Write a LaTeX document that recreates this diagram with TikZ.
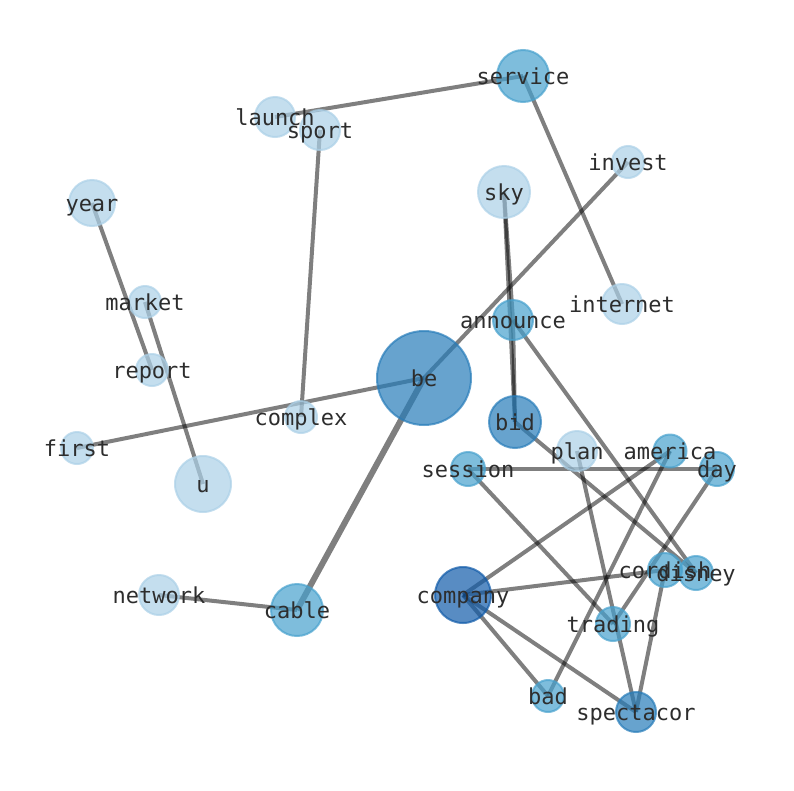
\documentclass[tikz,border=0pt]{standalone}
\usepackage{fontspec}
\setmonofont{DejaVu Sans Mono}
\definecolor{cLight}{RGB}{171,208,231}
\definecolor{cMed}{RGB}{71,161,205}
\definecolor{cDark}{RGB}{39,124,185}
\definecolor{cDeep}{RGB}{17,91,169}
\definecolor{txt}{RGB}{45,45,45}
\tikzset{
  vtx/.style={circle, inner sep=0pt, minimum size=#1, line width=2pt, opacity=0.7},
  lightv/.style={vtx=#1, fill=cLight, draw=cLight},
  medv/.style={vtx=#1, fill=cMed, draw=cMed},
  darkv/.style={vtx=#1, fill=cDark, draw=cDark},
  deepv/.style={vtx=#1, fill=cDeep, draw=cDeep},
  lbl/.style={font=\ttfamily\fontsize{22}{22}\selectfont, text=txt, inner sep=0pt, anchor=base, yshift=-8.2pt},
  edge/.style={draw=black, opacity=0.5, line width=4pt},
  thick edge/.style={draw=black, opacity=0.5, line width=6pt},
}
\begin{document}
\begin{tikzpicture}[x=1pt,y=-1pt]
\useasboundingbox (0,0) rectangle (794,790);
% coordinates
\coordinate (service) at (523,76);
\coordinate (launch) at (275,117);
\coordinate (sport) at (320,130);
\coordinate (invest) at (628,162);
\coordinate (year) at (92,203);
\coordinate (sky) at (504,192);
\coordinate (market) at (145,302);
\coordinate (internet) at (622,304);
\coordinate (announce) at (513,320);
\coordinate (report) at (152,370);
\coordinate (be) at (424,378);
\coordinate (complex) at (301,417);
\coordinate (bid) at (515,422);
\coordinate (first) at (77,448);
\coordinate (u) at (203,484);
\coordinate (plan) at (577,451);
\coordinate (america) at (670,451);
\coordinate (session) at (468,469);
\coordinate (day) at (717,469);
\coordinate (cordish) at (665,570);
\coordinate (disney) at (696,573);
\coordinate (network) at (159,595);
\coordinate (cable) at (297,610);
\coordinate (company) at (463,595);
\coordinate (trading) at (613,624);
\coordinate (bad) at (548,696);
\coordinate (spectacor) at (636,712);
% edges
\draw[edge] (launch) -- (service);
\draw[edge] (sport) -- (complex);
\draw[edge] (service) -- (internet);
\draw[edge] (invest) -- (be);
\draw[edge] (sky) -- (bid);
\draw[edge] (sky) -- (announce);
\draw[edge] (announce) -- (bid);
\draw[edge] (announce) -- (disney);
\draw[edge] (bid) -- (disney);
\draw[edge] (year) -- (report);
\draw[edge] (market) -- (u);
\draw[edge] (first) -- (be);
\draw[thick edge] (be) -- (cable);
\draw[edge] (network) -- (cable);
\draw[edge] (session) -- (day);
\draw[edge] (session) -- (trading);
\draw[edge] (plan) -- (spectacor);
\draw[edge] (america) -- (company);
\draw[edge] (america) -- (bad);
\draw[edge] (day) -- (trading);
\draw[edge] (company) -- (cordish);
\draw[edge] (company) -- (bad);
\draw[edge] (company) -- (spectacor);
\draw[edge] (cordish) -- (spectacor);
% nodes
\node[medv=52pt] (n-service) at (service) {};
\node[lightv=40pt] (n-launch) at (launch) {};
\node[lightv=40pt] (n-sport) at (sport) {};
\node[lightv=32pt] (n-invest) at (invest) {};
\node[lightv=46pt] (n-year) at (year) {};
\node[lightv=52pt] (n-sky) at (sky) {};
\node[lightv=32pt] (n-market) at (market) {};
\node[lightv=40pt] (n-internet) at (internet) {};
\node[medv=40pt] (n-announce) at (announce) {};
\node[lightv=32pt] (n-report) at (report) {};
\node[darkv=94pt] (n-be) at (be) {};
\node[lightv=32pt] (n-complex) at (complex) {};
\node[darkv=52pt] (n-bid) at (bid) {};
\node[lightv=32pt] (n-first) at (first) {};
\node[lightv=56pt] (n-u) at (u) {};
\node[lightv=40pt] (n-plan) at (plan) {};
\node[medv=33pt] (n-america) at (america) {};
\node[medv=34pt] (n-session) at (session) {};
\node[medv=34pt] (n-day) at (day) {};
\node[medv=34pt] (n-cordish) at (cordish) {};
\node[medv=34pt] (n-disney) at (disney) {};
\node[lightv=40pt] (n-network) at (network) {};
\node[medv=52pt] (n-cable) at (cable) {};
\node[deepv=56pt] (n-company) at (company) {};
\node[medv=34pt] (n-trading) at (trading) {};
\node[medv=32pt] (n-bad) at (bad) {};
\node[darkv=40pt] (n-spectacor) at (spectacor) {};
% labels
\foreach \n in {service,launch,sport,invest,year,sky,market,internet,announce,report,be,complex,bid,first,u,plan,america,session,day,cordish,disney,network,cable,company,trading,bad,spectacor}
  \node[lbl] (t-\n) at (\n) {\n};
\end{tikzpicture}
\end{document}
